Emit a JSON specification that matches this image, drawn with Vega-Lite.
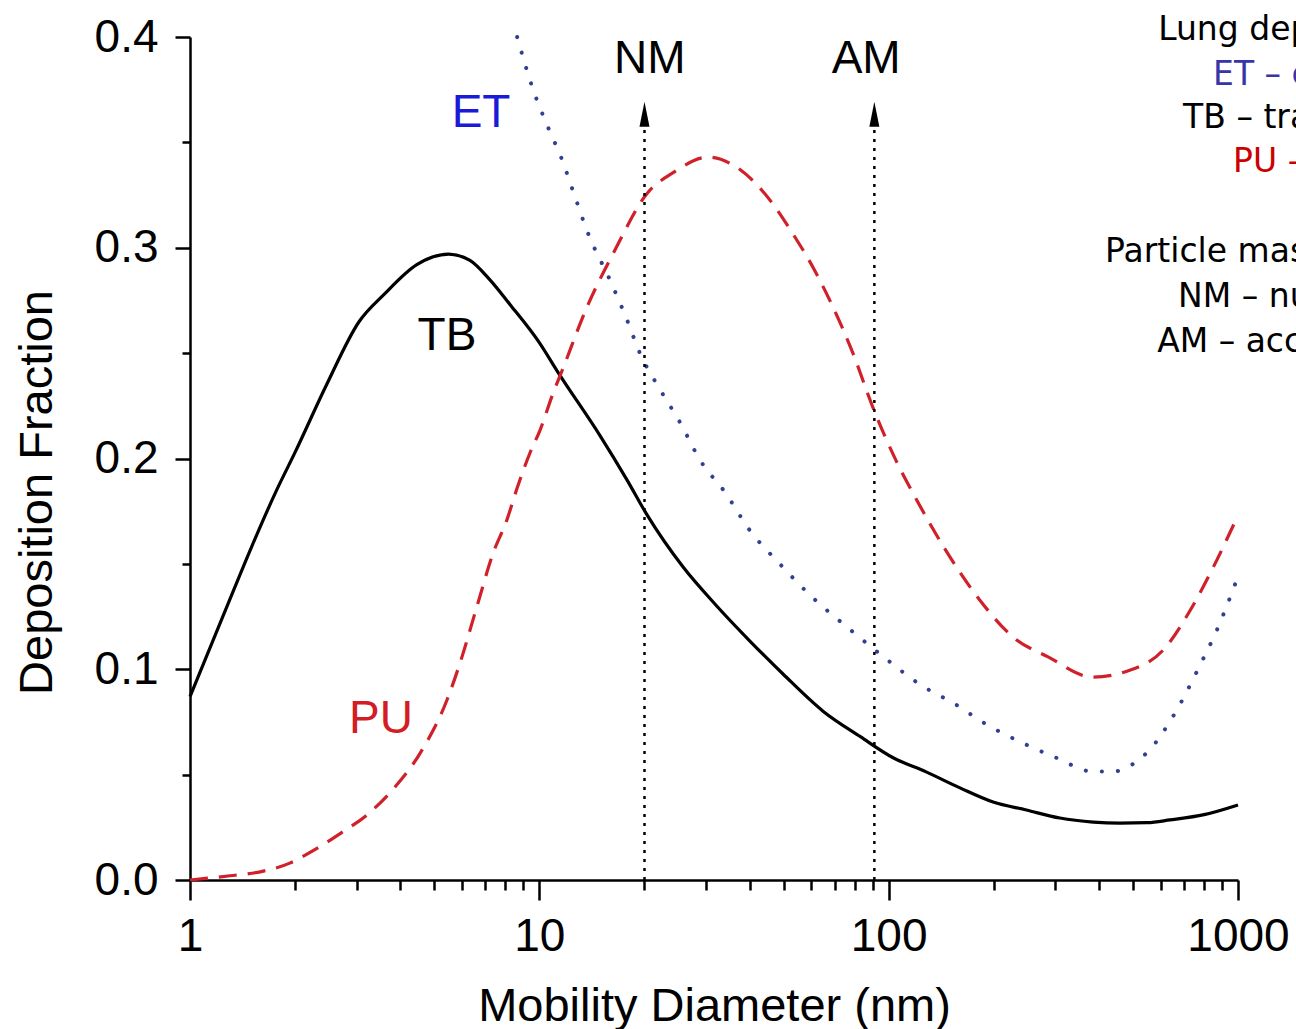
{
  "$schema": "https://vega.github.io/schema/vega-lite/v6.json",
  "width": 1048,
  "height": 843,
  "autosize": {"type": "none"},
  "padding": {"left": 190, "top": 37, "right": 58, "bottom": 149},
  "background": "white",
  "config": {"view": {"stroke": null}, "font": "Liberation Sans"},
  "datasets": {
    "curves": [
      {"region": "TB", "d": 1, "v": 0.087},
      {"region": "TB", "d": 1.27, "v": 0.129},
      {"region": "TB", "d": 1.5, "v": 0.158},
      {"region": "TB", "d": 1.77, "v": 0.185},
      {"region": "TB", "d": 2, "v": 0.203},
      {"region": "TB", "d": 2.46, "v": 0.235},
      {"region": "TB", "d": 3.05, "v": 0.265},
      {"region": "TB", "d": 3.6, "v": 0.278},
      {"region": "TB", "d": 4.46, "v": 0.292},
      {"region": "TB", "d": 5.5, "v": 0.297},
      {"region": "TB", "d": 6.33, "v": 0.294},
      {"region": "TB", "d": 7.2, "v": 0.285},
      {"region": "TB", "d": 8.25, "v": 0.273},
      {"region": "TB", "d": 10, "v": 0.255},
      {"region": "TB", "d": 11.3, "v": 0.241},
      {"region": "TB", "d": 14.9, "v": 0.211},
      {"region": "TB", "d": 17.8, "v": 0.19},
      {"region": "TB", "d": 20.3, "v": 0.1735},
      {"region": "TB", "d": 25.8, "v": 0.1485},
      {"region": "TB", "d": 32, "v": 0.1305},
      {"region": "TB", "d": 40, "v": 0.1135},
      {"region": "TB", "d": 50, "v": 0.0975},
      {"region": "TB", "d": 65, "v": 0.08},
      {"region": "TB", "d": 83, "v": 0.068},
      {"region": "TB", "d": 103, "v": 0.058},
      {"region": "TB", "d": 128, "v": 0.0513},
      {"region": "TB", "d": 160, "v": 0.0437},
      {"region": "TB", "d": 199, "v": 0.037},
      {"region": "TB", "d": 248, "v": 0.0332},
      {"region": "TB", "d": 309, "v": 0.0294},
      {"region": "TB", "d": 385, "v": 0.0275},
      {"region": "TB", "d": 459, "v": 0.027},
      {"region": "TB", "d": 550, "v": 0.0272},
      {"region": "TB", "d": 639, "v": 0.0285},
      {"region": "TB", "d": 800, "v": 0.031},
      {"region": "TB", "d": 1000, "v": 0.0356},
      {"region": "ET", "d": 8.64, "v": 0.4},
      {"region": "ET", "d": 9.6, "v": 0.375},
      {"region": "ET", "d": 10.6, "v": 0.357},
      {"region": "ET", "d": 11.6, "v": 0.342},
      {"region": "ET", "d": 12.6, "v": 0.325},
      {"region": "ET", "d": 13.7, "v": 0.308},
      {"region": "ET", "d": 16.1, "v": 0.283},
      {"region": "ET", "d": 17.8, "v": 0.266},
      {"region": "ET", "d": 19.4, "v": 0.25},
      {"region": "ET", "d": 22.2, "v": 0.2325},
      {"region": "ET", "d": 25.3, "v": 0.217},
      {"region": "ET", "d": 28.9, "v": 0.199},
      {"region": "ET", "d": 34, "v": 0.184},
      {"region": "ET", "d": 40, "v": 0.166},
      {"region": "ET", "d": 48.8, "v": 0.15},
      {"region": "ET", "d": 60.6, "v": 0.134},
      {"region": "ET", "d": 76.7, "v": 0.1195},
      {"region": "ET", "d": 96.5, "v": 0.106},
      {"region": "ET", "d": 125, "v": 0.092},
      {"region": "ET", "d": 153, "v": 0.084},
      {"region": "ET", "d": 192, "v": 0.0735},
      {"region": "ET", "d": 242, "v": 0.065},
      {"region": "ET", "d": 303, "v": 0.0579},
      {"region": "ET", "d": 383, "v": 0.0515},
      {"region": "ET", "d": 440, "v": 0.0515},
      {"region": "ET", "d": 500, "v": 0.055},
      {"region": "ET", "d": 560, "v": 0.062},
      {"region": "ET", "d": 650, "v": 0.0773},
      {"region": "ET", "d": 779, "v": 0.102},
      {"region": "ET", "d": 870, "v": 0.1186},
      {"region": "ET", "d": 1000, "v": 0.144},
      {"region": "PU", "d": 1, "v": 0.0},
      {"region": "PU", "d": 1.3, "v": 0.002},
      {"region": "PU", "d": 1.6, "v": 0.004},
      {"region": "PU", "d": 1.93, "v": 0.008},
      {"region": "PU", "d": 2.2, "v": 0.013},
      {"region": "PU", "d": 2.69, "v": 0.022},
      {"region": "PU", "d": 3.27, "v": 0.032},
      {"region": "PU", "d": 3.81, "v": 0.043},
      {"region": "PU", "d": 4.55, "v": 0.06},
      {"region": "PU", "d": 5.44, "v": 0.0854},
      {"region": "PU", "d": 5.93, "v": 0.103},
      {"region": "PU", "d": 6.62, "v": 0.1295},
      {"region": "PU", "d": 7.37, "v": 0.155},
      {"region": "PU", "d": 8.08, "v": 0.171},
      {"region": "PU", "d": 8.6, "v": 0.185},
      {"region": "PU", "d": 9.4, "v": 0.2026},
      {"region": "PU", "d": 10.05, "v": 0.2135},
      {"region": "PU", "d": 10.95, "v": 0.231},
      {"region": "PU", "d": 11.7, "v": 0.243},
      {"region": "PU", "d": 13.7, "v": 0.272},
      {"region": "PU", "d": 16.3, "v": 0.2975},
      {"region": "PU", "d": 20.4, "v": 0.326},
      {"region": "PU", "d": 24.1, "v": 0.3355},
      {"region": "PU", "d": 30.4, "v": 0.343},
      {"region": "PU", "d": 37.6, "v": 0.337},
      {"region": "PU", "d": 45.7, "v": 0.3227},
      {"region": "PU", "d": 53, "v": 0.307},
      {"region": "PU", "d": 60.6, "v": 0.291},
      {"region": "PU", "d": 69.2, "v": 0.272},
      {"region": "PU", "d": 79, "v": 0.25},
      {"region": "PU", "d": 90, "v": 0.2245},
      {"region": "PU", "d": 105, "v": 0.199},
      {"region": "PU", "d": 117, "v": 0.184},
      {"region": "PU", "d": 145, "v": 0.157},
      {"region": "PU", "d": 182, "v": 0.133},
      {"region": "PU", "d": 228, "v": 0.115},
      {"region": "PU", "d": 285, "v": 0.106},
      {"region": "PU", "d": 383, "v": 0.0963},
      {"region": "PU", "d": 492, "v": 0.0996},
      {"region": "PU", "d": 610, "v": 0.109},
      {"region": "PU", "d": 730, "v": 0.128},
      {"region": "PU", "d": 850, "v": 0.1485},
      {"region": "PU", "d": 1000, "v": 0.173}
    ],
    "modes": [
      {"mode": "NM", "d": 20, "ld": 20.7, "base": 0, "top": 0.358, "tip": 0.3633, "lab": 0.3829},
      {"mode": "AM", "d": 91, "ld": 86.2, "base": 0, "top": 0.358, "tip": 0.3633, "lab": 0.3829}
    ],
    "curveLabels": [
      {"lab": "ET", "d": 6.81, "v": 0.3573},
      {"lab": "TB", "d": 5.44, "v": 0.2515},
      {"lab": "PU", "d": 3.52, "v": 0.0698}
    ],
    "notes": [
      {"note": "Lung deposition regions:", "d": 590.7, "v": 0.3986, "grp": "k"},
      {"note": "ET – extrathoracic", "d": 848.7, "v": 0.3772, "grp": "ET"},
      {"note": "TB – tracheobronchial", "d": 696.4, "v": 0.3568, "grp": "k"},
      {"note": "PU – pulmonary", "d": 968.3, "v": 0.336, "grp": "PU"},
      {"note": "Particle mass modes:", "d": 416.5, "v": 0.2932, "grp": "k"},
      {"note": "NM – nucleation mode", "d": 673.8, "v": 0.2719, "grp": "k"},
      {"note": "AM – accumulation mode", "d": 586.8, "v": 0.2505, "grp": "k"}
    ]
  },
  "resolve": {"axis": {"x": "independent", "y": "independent"}},
  "layer": [
    {
      "data": {"name": "curves"},
      "transform": [{"filter": "datum.region === 'TB'"}],
      "mark": {"type": "line", "color": "black", "strokeWidth": 3.2, "interpolate": "monotone"},
      "encoding": {
        "x": {"field": "d", "type": "quantitative",
          "scale": {"type": "log", "domain": [1, 1000], "nice": false},
          "axis": {"orient": "bottom", "values": [1, 10, 100, 1000], "format": "d", "grid": false,
            "tickSize": 20, "tickWidth": 2.5, "tickColor": "black", "domainColor": "black", "domainWidth": 2.5,
            "labelFontSize": 46, "labelColor": "black", "labelPadding": 14, "labelFlush": false, "labelOverlap": false,
            "labelFont": "Liberation Sans",
            "title": "Mobility Diameter (nm)", "titleFont": "Liberation Sans", "titleFontSize": 47, "titleFontWeight": "normal",
            "titleColor": "black", "titleBaseline": "alphabetic", "titleY": 140}},
        "y": {"field": "v", "type": "quantitative",
          "scale": {"domain": [0, 0.4], "nice": false, "zero": false},
          "axis": {"orient": "left", "values": [0, 0.1, 0.2, 0.3, 0.4], "format": ".1f", "grid": false,
            "tickSize": 15, "tickWidth": 2.5, "tickColor": "black", "domainColor": "black", "domainWidth": 2.5,
            "labelFontSize": 46, "labelColor": "black", "labelPadding": 17, "labelFlush": false, "labelOverlap": false,
            "labelFont": "Liberation Sans",
            "title": "Deposition Fraction", "titleFont": "Liberation Sans", "titleFontSize": 47, "titleFontWeight": "normal",
            "titleColor": "black", "titleX": -153, "titleY": 455, "titleAngle": -90, "titleAlign": "center", "titleBaseline": "middle"}}
      }
    },
    {
      "data": {"name": "curves"},
      "transform": [{"filter": "datum.region === 'ET'"}],
      "mark": {"type": "line", "color": "#33408f", "strokeWidth": 4, "strokeCap": "round", "strokeDash": [0.1, 16], "interpolate": "monotone"},
      "encoding": {
        "x": {"field": "d", "type": "quantitative",
          "scale": {"type": "log", "domain": [1, 1000], "nice": false},
          "axis": {"orient": "bottom", "values": [2, 3, 4, 5, 6, 7, 8, 9, 20, 30, 40, 50, 60, 70, 80, 90, 200, 300, 400, 500, 600, 700, 800, 900],
            "labels": false, "domain": false, "grid": false, "tickSize": 10, "tickWidth": 2.5, "tickColor": "black", "title": null}},
        "y": {"field": "v", "type": "quantitative",
          "scale": {"domain": [0, 0.4], "nice": false, "zero": false},
          "axis": {"orient": "left", "values": [0.05, 0.15, 0.25, 0.35],
            "labels": false, "domain": false, "grid": false, "tickSize": 8, "tickWidth": 2.5, "tickColor": "black", "title": null}}
      }
    },
    {
      "data": {"name": "curves"},
      "transform": [{"filter": "datum.region === 'PU'"}],
      "mark": {"type": "line", "color": "#d0202a", "strokeWidth": 3.2, "strokeDash": [18, 11], "interpolate": "monotone"},
      "encoding": {
        "x": {"field": "d", "type": "quantitative", "scale": {"type": "log", "domain": [1, 1000], "nice": false}, "axis": null},
        "y": {"field": "v", "type": "quantitative", "scale": {"domain": [0, 0.4], "nice": false, "zero": false}, "axis": null}
      }
    },
    {
      "data": {"name": "modes"},
      "mark": {"type": "rule", "color": "black", "strokeWidth": 2.5, "strokeDash": [3, 6]},
      "encoding": {
        "x": {"field": "d", "type": "quantitative", "scale": {"type": "log", "domain": [1, 1000], "nice": false}, "axis": null},
        "y": {"field": "base", "type": "quantitative", "scale": {"domain": [0, 0.4], "nice": false, "zero": false}, "axis": null},
        "y2": {"field": "top"}
      }
    },
    {
      "data": {"name": "modes"},
      "mark": {"type": "point", "shape": "M-0.4,1L0,-1L0.4,1Z", "size": 625, "filled": true, "color": "black", "opacity": 1, "strokeWidth": 0},
      "encoding": {
        "x": {"field": "d", "type": "quantitative", "scale": {"type": "log", "domain": [1, 1000], "nice": false}, "axis": null},
        "y": {"field": "tip", "type": "quantitative", "scale": {"domain": [0, 0.4], "nice": false, "zero": false}, "axis": null}
      }
    },
    {
      "data": {"name": "modes"},
      "mark": {"type": "text", "font": "Liberation Sans", "fontSize": 46, "color": "black", "align": "center", "baseline": "alphabetic"},
      "encoding": {
        "x": {"field": "ld", "type": "quantitative", "scale": {"type": "log", "domain": [1, 1000], "nice": false}, "axis": null},
        "y": {"field": "lab", "type": "quantitative", "scale": {"domain": [0, 0.4], "nice": false, "zero": false}, "axis": null},
        "text": {"field": "mode"}
      }
    },
    {
      "data": {"name": "curveLabels"},
      "transform": [{"filter": "datum.lab === 'ET'"}],
      "mark": {"type": "text", "font": "Liberation Sans", "fontSize": 46, "color": "#1a1ad8", "align": "center", "baseline": "alphabetic"},
      "encoding": {
        "x": {"field": "d", "type": "quantitative", "scale": {"type": "log", "domain": [1, 1000], "nice": false}, "axis": null},
        "y": {"field": "v", "type": "quantitative", "scale": {"domain": [0, 0.4], "nice": false, "zero": false}, "axis": null},
        "text": {"field": "lab"}
      }
    },
    {
      "data": {"name": "curveLabels"},
      "transform": [{"filter": "datum.lab === 'TB'"}],
      "mark": {"type": "text", "font": "Liberation Sans", "fontSize": 46, "color": "black", "align": "center", "baseline": "alphabetic"},
      "encoding": {
        "x": {"field": "d", "type": "quantitative", "scale": {"type": "log", "domain": [1, 1000], "nice": false}, "axis": null},
        "y": {"field": "v", "type": "quantitative", "scale": {"domain": [0, 0.4], "nice": false, "zero": false}, "axis": null},
        "text": {"field": "lab"}
      }
    },
    {
      "data": {"name": "curveLabels"},
      "transform": [{"filter": "datum.lab === 'PU'"}],
      "mark": {"type": "text", "font": "Liberation Sans", "fontSize": 46, "color": "#d41c24", "align": "center", "baseline": "alphabetic"},
      "encoding": {
        "x": {"field": "d", "type": "quantitative", "scale": {"type": "log", "domain": [1, 1000], "nice": false}, "axis": null},
        "y": {"field": "v", "type": "quantitative", "scale": {"domain": [0, 0.4], "nice": false, "zero": false}, "axis": null},
        "text": {"field": "lab"}
      }
    },
    {
      "data": {"name": "notes"},
      "transform": [{"filter": "datum.grp === 'k'"}],
      "mark": {"type": "text", "font": "DejaVu Sans", "fontSize": 33, "color": "black", "align": "left", "baseline": "alphabetic"},
      "encoding": {
        "x": {"field": "d", "type": "quantitative", "scale": {"type": "log", "domain": [1, 1000], "nice": false}, "axis": null},
        "y": {"field": "v", "type": "quantitative", "scale": {"domain": [0, 0.4], "nice": false, "zero": false}, "axis": null},
        "text": {"field": "note"}
      }
    },
    {
      "data": {"name": "notes"},
      "transform": [{"filter": "datum.grp === 'ET'"}],
      "mark": {"type": "text", "font": "DejaVu Sans", "fontSize": 33, "color": "#3636a8", "align": "left", "baseline": "alphabetic"},
      "encoding": {
        "x": {"field": "d", "type": "quantitative", "scale": {"type": "log", "domain": [1, 1000], "nice": false}, "axis": null},
        "y": {"field": "v", "type": "quantitative", "scale": {"domain": [0, 0.4], "nice": false, "zero": false}, "axis": null},
        "text": {"field": "note"}
      }
    },
    {
      "data": {"name": "notes"},
      "transform": [{"filter": "datum.grp === 'PU'"}],
      "mark": {"type": "text", "font": "DejaVu Sans", "fontSize": 33, "color": "#cc0000", "align": "left", "baseline": "alphabetic"},
      "encoding": {
        "x": {"field": "d", "type": "quantitative", "scale": {"type": "log", "domain": [1, 1000], "nice": false}, "axis": null},
        "y": {"field": "v", "type": "quantitative", "scale": {"domain": [0, 0.4], "nice": false, "zero": false}, "axis": null},
        "text": {"field": "note"}
      }
    }
  ]
}
